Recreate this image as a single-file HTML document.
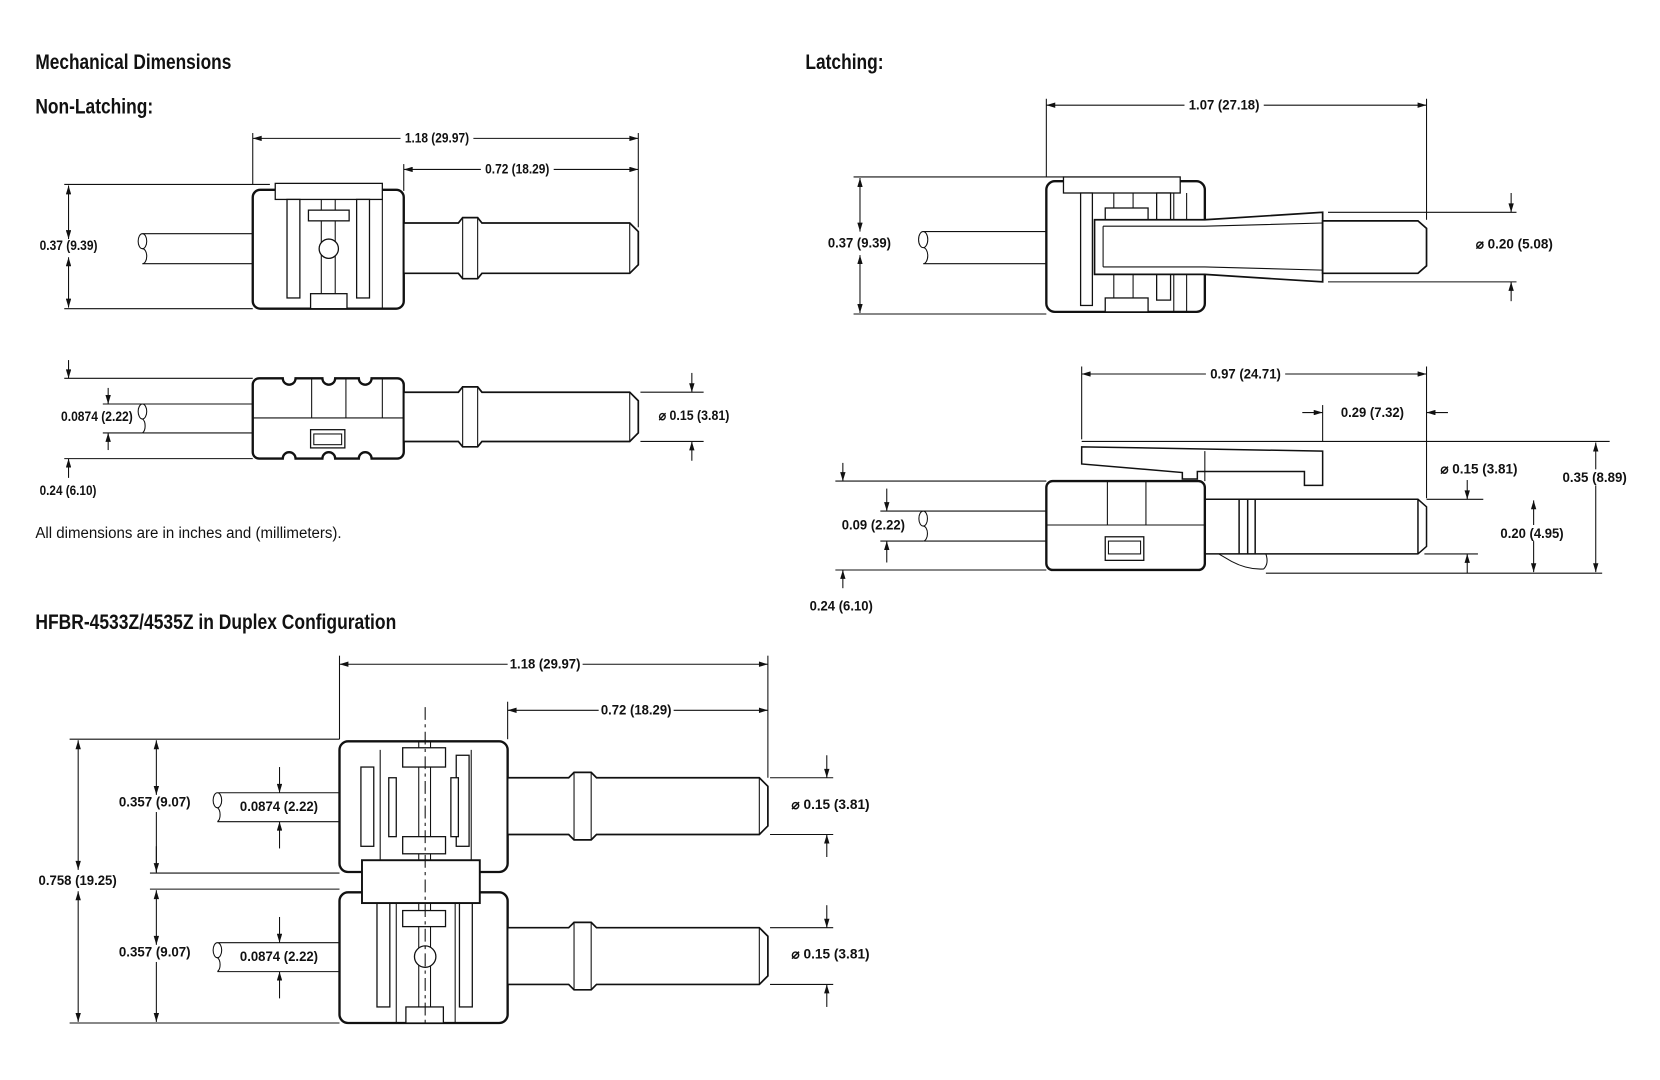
<!DOCTYPE html>
<html><head><meta charset="utf-8"><style>
html,body{margin:0;padding:0;background:#fff;}
svg{display:block}
.t{font-family:"Liberation Sans Narrow","Liberation Sans",sans-serif;font-weight:bold;font-size:12.5px;fill:#111}
.h{font-family:"Liberation Sans Narrow","Liberation Sans",sans-serif;font-weight:bold;font-size:20px;fill:#111}
.n{font-family:"Liberation Sans Narrow","Liberation Sans",sans-serif;font-size:14.5px;fill:#111}
.o{fill:#fff;stroke:#111;stroke-width:2.2}
.l{fill:none;stroke:#111;stroke-width:1}
.m{fill:#fff;stroke:#111;stroke-width:1.2}
.d{fill:none;stroke:#111;stroke-width:1;marker-start:url(#a);marker-end:url(#a)}
.e{fill:none;stroke:#111;stroke-width:1;marker-end:url(#a)}
</style></head><body>
<svg width="1660" height="1080" viewBox="0 0 1550 1008" xmlns="http://www.w3.org/2000/svg">
<defs><marker id="a" viewBox="0 0 10 6" refX="10" refY="3" markerWidth="9" markerHeight="5" markerUnits="userSpaceOnUse" orient="auto-start-reverse"><path d="M0,0 L10,3 L0,6 z" fill="#111"/></marker></defs>

<text class="h" x="33" y="64" textLength="183" lengthAdjust="spacingAndGlyphs">Mechanical Dimensions</text>
<text class="h" x="33" y="106" textLength="110" lengthAdjust="spacingAndGlyphs">Non-Latching:</text>
<text class="h" x="752" y="64" textLength="73" lengthAdjust="spacingAndGlyphs">Latching:</text>
<text class="h" x="33" y="587" textLength="337" lengthAdjust="spacingAndGlyphs">HFBR-4533Z/4535Z in Duplex Configuration</text>
<text class="n" x="33" y="502" textLength="286" lengthAdjust="spacingAndGlyphs">All dimensions are in inches and (millimeters).</text>

<!-- ============ Non-latching top ============ -->
<line class="l" x1="236" y1="124" x2="236" y2="172"/><line class="l" x1="596" y1="124" x2="596" y2="212"/><line class="l" x1="377" y1="153" x2="377" y2="178"/>
<line class="d" x1="236" y1="129" x2="596" y2="129"/>
<rect x="374" y="122" width="68" height="14" fill="#fff"/>
<text class="t" x="408" y="133" text-anchor="middle" textLength="60" lengthAdjust="spacingAndGlyphs">1.18 (29.97)</text>
<line class="d" x1="377" y1="158" x2="596" y2="158"/><rect x="449" y="151" width="68" height="14" fill="#fff"/>
<text class="t" x="483" y="162" text-anchor="middle" textLength="60" lengthAdjust="spacingAndGlyphs">0.72 (18.29)</text>
<path class="l" d="M133,218 L236,218 M133,246 L236,246"/>
<path class="l" d="M133,218 a4,7 0 0 0 0,14 a4,7 0 0 1 0,14"/>
<path class="l" d="M133,218 a4,7 0 0 1 0,14"/>
<rect class="o" x="236" y="177" width="141" height="111" rx="7"/>
<rect class="m" x="257" y="171" width="100" height="15"/>
<rect class="m" x="268" y="186" width="12" height="92"/><rect class="m" x="333" y="186" width="12" height="92"/>
<line class="l" x1="357" y1="186" x2="357" y2="288"/>
<line class="l" x1="300" y1="186" x2="300" y2="278"/><line class="l" x1="313" y1="186" x2="313" y2="278"/>
<rect class="m" x="288" y="196" width="38" height="10"/>
<circle class="m" cx="307" cy="232" r="9"/>
<rect class="m" x="290" y="274" width="34" height="14"/>
<path class="o" style="stroke-width:1.6" d="M377,208 L428,208 L432,203 L446,203 L450,208 L588,208 L596,216 L596,247 L588,255 L450,255 L446,260 L432,260 L428,255 L377,255 Z"/>
<path class="l" d="M432,203 L432,260 M446,203 L446,260 M588,208 L588,255"/>
<line class="l" x1="60" y1="172" x2="252" y2="172"/><line class="l" x1="60" y1="288" x2="236" y2="288"/>
<line class="d" x1="64" y1="173" x2="64" y2="223"/><line class="d" x1="64" y1="240" x2="64" y2="287"/>
<text class="t" x="37" y="233" textLength="54" lengthAdjust="spacingAndGlyphs">0.37 (9.39)</text>

<!-- ============ Non-latching side ============ -->
<path class="l" d="M133,377 L236,377 M133,404 L236,404 M133,377 a4,7 0 0 0 0,14 a4,7 0 0 1 0,13 M133,377 a4,7 0 0 1 0,14"/>
<path class="o" d="M242,353 L264,353 a6,6 0 0 0 12,0 L301,353 a6,6 0 0 0 12,0 L335,353 a6,6 0 0 0 12,0 L371,353 a6,6 0 0 1 6,6 L377,422 a6,6 0 0 1 -6,6 L347,428 a6,6 0 0 0 -12,0 L313,428 a6,6 0 0 0 -12,0 L276,428 a6,6 0 0 0 -12,0 L242,428 a6,6 0 0 1 -6,-6 L236,359 a6,6 0 0 1 6,-6 Z"/>
<path class="l" d="M236,390 L377,390 M291,353 L291,390 M323,353 L323,390 M357,353 L357,390"/>
<rect class="m" x="290" y="401" width="32" height="17"/><rect class="l" x="293" y="405" width="26" height="10"/>
<path class="o" style="stroke-width:1.6" d="M377,366 L428,366 L432,361 L446,361 L450,366 L588,366 L596,374 L596,404 L588,412 L450,412 L446,417 L432,417 L428,412 L377,412 Z"/>
<path class="l" d="M432,361 L432,417 M446,361 L446,417 M588,366 L588,412"/>
<line class="l" x1="60" y1="353" x2="236" y2="353"/><line class="l" x1="60" y1="428" x2="236" y2="428"/>
<line class="e" x1="64" y1="336" x2="64" y2="353"/><line class="e" x1="64" y1="446" x2="64" y2="428"/>
<text class="t" x="37" y="462" textLength="53" lengthAdjust="spacingAndGlyphs">0.24 (6.10)</text>
<line class="l" x1="96" y1="377" x2="133" y2="377"/><line class="l" x1="96" y1="404" x2="133" y2="404"/>
<line class="e" x1="101" y1="362" x2="101" y2="377"/><line class="e" x1="101" y1="420" x2="101" y2="404"/>
<text class="t" x="57" y="393" textLength="67" lengthAdjust="spacingAndGlyphs">0.0874 (2.22)</text>
<line class="l" x1="598" y1="366" x2="657" y2="366"/><line class="l" x1="598" y1="412" x2="657" y2="412"/>
<line class="e" x1="646" y1="348" x2="646" y2="366"/><line class="e" x1="646" y1="430" x2="646" y2="412"/>
<text class="t" x="615" y="392" textLength="66" lengthAdjust="spacingAndGlyphs">⌀ 0.15 (3.81)</text>

<!-- ============ Latching top ============ -->
<line class="l" x1="977" y1="92" x2="977" y2="165"/><line class="l" x1="1332" y1="92" x2="1332" y2="205"/>
<line class="d" x1="977" y1="98" x2="1332" y2="98"/><rect x="1106" y="91" width="74" height="14" fill="#fff"/>
<text class="t" x="1143" y="102" text-anchor="middle" textLength="66" lengthAdjust="spacingAndGlyphs">1.07 (27.18)</text>
<path class="l" d="M862,216 L977,216 M862,246 L977,246 M862,216 a4,7 0 0 0 0,15 a4,7 0 0 1 0,15 M862,216 a4,7 0 0 1 0,15"/>
<rect class="o" x="977" y="169" width="148" height="122" rx="8"/>
<rect class="m" x="993" y="165" width="109" height="15"/>
<rect class="m" x="1009" y="180" width="11" height="105"/>
<path class="l" d="M1040,180 L1040,291 M1058,180 L1058,291 M1096,180 L1096,291 M1108,180 L1108,291"/>
<rect class="m" x="1080" y="180" width="13" height="100"/>
<rect class="m" x="1032" y="194" width="40" height="12"/><rect class="m" x="1032" y="278" width="40" height="13"/>
<path class="o" style="stroke-width:1.6" d="M1022,205 L1125,205 L1235,198 L1235,263 L1125,256 L1022,256 Z"/>
<path class="l" d="M1030,211 L1125,211 L1235,208 M1030,249 L1125,249 L1235,252 M1030,211 L1030,249"/>
<path class="o" style="stroke-width:1.6" d="M1235,206 L1324,206 L1332,213 L1332,248 L1324,255 L1235,255 Z"/>
<line class="l" x1="797" y1="165" x2="993" y2="165"/><line class="l" x1="797" y1="293" x2="977" y2="293"/>
<line class="d" x1="803" y1="166" x2="803" y2="216"/><line class="d" x1="803" y1="238" x2="803" y2="292"/>
<text class="t" x="773" y="231" textLength="59" lengthAdjust="spacingAndGlyphs">0.37 (9.39)</text>
<line class="l" x1="1240" y1="198" x2="1416" y2="198"/><line class="l" x1="1240" y1="263" x2="1416" y2="263"/>
<line class="e" x1="1411" y1="180" x2="1411" y2="198"/><line class="e" x1="1411" y1="281" x2="1411" y2="263"/>
<text class="t" x="1378" y="232" textLength="72" lengthAdjust="spacingAndGlyphs">⌀ 0.20 (5.08)</text>

<!-- ============ Latching side ============ -->
<line class="l" x1="1010" y1="342" x2="1010" y2="410"/><line class="l" x1="1332" y1="342" x2="1332" y2="465"/>
<line class="d" x1="1010" y1="349" x2="1332" y2="349"/><rect x="1126" y="342" width="74" height="14" fill="#fff"/>
<text class="t" x="1163" y="353" text-anchor="middle" textLength="66" lengthAdjust="spacingAndGlyphs">0.97 (24.71)</text>
<line class="l" x1="1235" y1="378" x2="1235" y2="412"/>
<line class="e" x1="1216" y1="385" x2="1235" y2="385"/><line class="e" x1="1352" y1="385" x2="1332" y2="385"/>
<text class="t" x="1252" y="389" textLength="59" lengthAdjust="spacingAndGlyphs">0.29 (7.32)</text>
<path class="o" style="stroke-width:1.4" d="M1010,417 L1235,421 L1235,453 L1218,453 L1218,440 L1118,440 L1118,447 L1104,447 L1104,441 L1010,433 Z"/>
<line class="l" x1="1125" y1="421" x2="1125" y2="449"/>
<path class="l" d="M862,477 L977,477 M862,505 L977,505 M862,477 a4,7 0 0 0 0,14 a4,7 0 0 1 0,14 M862,477 a4,7 0 0 1 0,14"/>
<rect class="o" x="977" y="449" width="148" height="83" rx="6"/>
<path class="l" d="M977,490 L1125,490 M1034,449 L1034,490 M1070,449 L1070,490"/>
<rect class="m" x="1032" y="501" width="36" height="22"/><rect class="l" x="1035" y="505" width="30" height="12"/>
<path class="l" style="stroke-width:1.4" d="M1125,466 L1324,466 L1332,473 L1332,510 L1324,517 L1125,517 M1157,466 L1157,517 M1165,466 L1165,517 M1172,466 L1172,517 M1324,466 L1324,517"/>
<path class="l" d="M1138,517 L1150,524 Q1165,532 1180,531 Q1185,526 1182,517"/>
<line class="l" x1="780" y1="449" x2="977" y2="449"/><line class="l" x1="780" y1="532" x2="977" y2="532"/>
<line class="e" x1="787" y1="432" x2="787" y2="449"/><line class="e" x1="787" y1="549" x2="787" y2="532"/>
<text class="t" x="756" y="570" textLength="59" lengthAdjust="spacingAndGlyphs">0.24 (6.10)</text>
<line class="l" x1="822" y1="477" x2="862" y2="477"/><line class="l" x1="822" y1="505" x2="862" y2="505"/>
<line class="e" x1="828" y1="456" x2="828" y2="477"/><line class="e" x1="828" y1="525" x2="828" y2="505"/>
<text class="t" x="786" y="494" textLength="59" lengthAdjust="spacingAndGlyphs">0.09 (2.22)</text>
<line class="l" x1="1332" y1="466" x2="1385" y2="466"/><line class="l" x1="1330" y1="517" x2="1380" y2="517"/>
<line class="e" x1="1370" y1="448" x2="1370" y2="466"/><line class="e" x1="1370" y1="535" x2="1370" y2="517"/>
<text class="t" x="1345" y="442" textLength="72" lengthAdjust="spacingAndGlyphs">⌀ 0.15 (3.81)</text>
<line class="l" x1="1182" y1="535" x2="1496" y2="535"/><line class="l" x1="1010" y1="412" x2="1503" y2="412"/>
<line class="d" x1="1432" y1="467" x2="1432" y2="534"/>
<rect x="1399" y="490" width="63" height="15" fill="#fff"/>
<text class="t" x="1401" y="502" textLength="59" lengthAdjust="spacingAndGlyphs">0.20 (4.95)</text>
<line class="d" x1="1490" y1="413" x2="1490" y2="534"/>
<rect x="1457" y="438" width="64" height="15" fill="#fff"/>
<text class="t" x="1459" y="450" textLength="60" lengthAdjust="spacingAndGlyphs">0.35 (8.89)</text>

<!-- ============ Duplex ============ -->
<line class="l" x1="317" y1="612" x2="317" y2="690"/><line class="l" x1="717" y1="612" x2="717" y2="726"/><line class="l" x1="474" y1="655" x2="474" y2="690"/>
<line class="d" x1="317" y1="620" x2="717" y2="620"/><rect x="474" y="613" width="70" height="14" fill="#fff"/>
<text class="t" x="509" y="624" text-anchor="middle" textLength="66" lengthAdjust="spacingAndGlyphs">1.18 (29.97)</text>
<line class="d" x1="474" y1="663" x2="717" y2="663"/><rect x="559" y="656" width="70" height="14" fill="#fff"/>
<text class="t" x="594" y="667" text-anchor="middle" textLength="66" lengthAdjust="spacingAndGlyphs">0.72 (18.29)</text>

<path class="l" d="M203,740 L317,740 M203,767 L317,767 M203,740 a4,7 0 0 0 0,14 a4,7 0 0 1 0,13 M203,740 a4,7 0 0 1 0,14"/>
<path class="l" d="M203,880 L317,880 M203,907 L317,907 M203,880 a4,7 0 0 0 0,14 a4,7 0 0 1 0,13 M203,880 a4,7 0 0 1 0,14"/>
<rect class="o" x="317" y="692" width="157" height="122" rx="8"/>
<rect class="o" x="317" y="833" width="157" height="122" rx="8"/>
<rect class="m" x="337" y="716" width="12" height="74"/><rect class="m" x="426" y="705" width="12" height="85"/>
<rect class="m" x="363" y="726" width="7" height="55"/><rect class="m" x="421" y="726" width="7" height="55"/>
<path class="l" d="M391,692 L391,814 M402,692 L402,814 M355,700 L355,803 M440,700 L440,803"/>
<rect class="m" x="376" y="698" width="40" height="18"/><rect class="m" x="376" y="781" width="40" height="16"/>
<rect class="m" x="352" y="843" width="12" height="97"/><rect class="m" x="429" y="843" width="12" height="97"/>
<path class="l" d="M391,843 L391,940 M402,843 L402,940 M370,843 L370,955 M425,843 L425,955"/>
<rect class="m" x="376" y="850" width="40" height="15"/>
<circle class="m" cx="397" cy="893" r="10"/>
<rect class="m" x="379" y="940" width="35" height="15"/>
<rect class="o" x="338" y="803" width="110" height="40" style="stroke-width:1.8"/>
<line class="l" x1="397" y1="660" x2="397" y2="955" stroke-dasharray="12,4,3,4"/>
<path class="o" style="stroke-width:1.6" d="M474,726 L531,726 L536,721 L552,721 L557,726 L709,726 L717,734 L717,771 L709,779 L557,779 L552,784 L536,784 L531,779 L474,779 Z"/>
<path class="l" d="M536,721 L536,784 M552,721 L552,784 M709,726 L709,779"/>
<path class="o" style="stroke-width:1.6" d="M474,866 L531,866 L536,861 L552,861 L557,866 L709,866 L717,874 L717,911 L709,919 L557,919 L552,924 L536,924 L531,919 L474,919 Z"/>
<path class="l" d="M536,861 L536,924 M552,861 L552,924 M709,866 L709,919"/>

<line class="l" x1="65" y1="690" x2="317" y2="690"/><line class="l" x1="65" y1="955" x2="317" y2="955"/>
<line class="l" x1="140" y1="815" x2="317" y2="815"/><line class="l" x1="140" y1="830" x2="317" y2="830"/>
<line class="d" x1="73" y1="691" x2="73" y2="812"/><line class="d" x1="73" y1="832" x2="73" y2="954"/>
<text class="t" x="36" y="826" textLength="73" lengthAdjust="spacingAndGlyphs">0.758 (19.25)</text>
<line class="d" x1="146" y1="691" x2="146" y2="742"/><line class="l" x1="146" y1="758" x2="146" y2="815"/>
<line class="e" x1="146" y1="790" x2="146" y2="814"/>
<line class="d" x1="146" y1="831" x2="146" y2="882"/><line class="e" x1="146" y1="898" x2="146" y2="954"/>
<text class="t" x="111" y="753" textLength="67" lengthAdjust="spacingAndGlyphs">0.357 (9.07)</text>
<text class="t" x="111" y="893" textLength="67" lengthAdjust="spacingAndGlyphs">0.357 (9.07)</text>
<line class="e" x1="261" y1="716" x2="261" y2="740"/><line class="e" x1="261" y1="792" x2="261" y2="767"/>
<line class="e" x1="261" y1="856" x2="261" y2="880"/><line class="e" x1="261" y1="932" x2="261" y2="907"/>
<rect x="222" y="745" width="76" height="15" fill="#fff"/><rect x="222" y="885" width="76" height="15" fill="#fff"/>
<text class="t" x="224" y="757" textLength="73" lengthAdjust="spacingAndGlyphs">0.0874 (2.22)</text>
<text class="t" x="224" y="897" textLength="73" lengthAdjust="spacingAndGlyphs">0.0874 (2.22)</text>
<line class="l" x1="719" y1="726" x2="778" y2="726"/><line class="l" x1="719" y1="779" x2="778" y2="779"/>
<line class="e" x1="772" y1="705" x2="772" y2="726"/><line class="e" x1="772" y1="800" x2="772" y2="779"/>
<text class="t" x="739" y="755" textLength="73" lengthAdjust="spacingAndGlyphs">⌀ 0.15 (3.81)</text>
<line class="l" x1="719" y1="866" x2="778" y2="866"/><line class="l" x1="719" y1="919" x2="778" y2="919"/>
<line class="e" x1="772" y1="845" x2="772" y2="866"/><line class="e" x1="772" y1="940" x2="772" y2="919"/>
<text class="t" x="739" y="895" textLength="73" lengthAdjust="spacingAndGlyphs">⌀ 0.15 (3.81)</text>
</svg>
</body></html>
